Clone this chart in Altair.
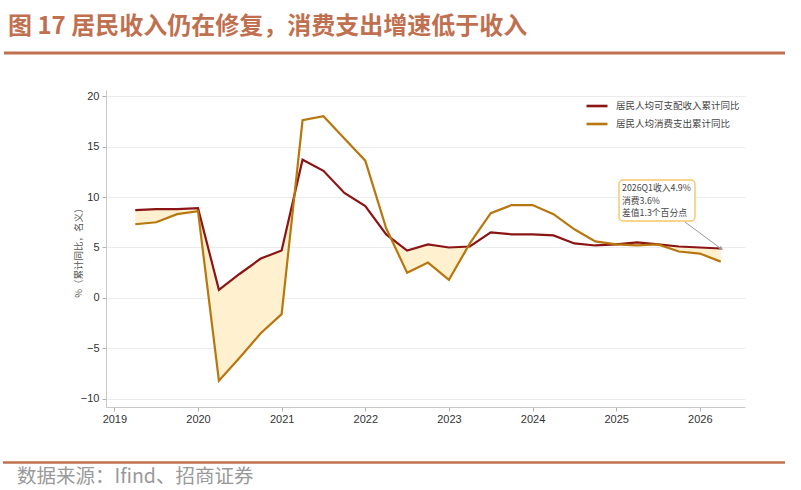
import altair as alt
import pandas as pd

# ---- data ----
quarters = ["2019Q1","2019Q2","2019Q3","2019Q4",
            "2020Q1","2020Q2","2020Q3","2020Q4",
            "2021Q1","2021Q2","2021Q3","2021Q4",
            "2022Q1","2022Q2","2022Q3","2022Q4",
            "2023Q1","2023Q2","2023Q3","2023Q4",
            "2024Q1","2024Q2","2024Q3","2024Q4",
            "2025Q1","2025Q2","2025Q3","2025Q4",
            "2026Q1"]
income = [8.7, 8.8, 8.8, 8.9,
          0.8, 2.4, 3.9, 4.7,
          13.7, 12.6, 10.4, 9.1,
          6.3, 4.7, 5.3, 5.0,
          5.1, 6.5, 6.3, 6.3,
          6.2, 5.4, 5.2, 5.3,
          5.5, 5.3, 5.1, 5.0,
          4.9]
consumption = [7.3, 7.5, 8.3, 8.6,
               -8.2, -5.9, -3.5, -1.6,
               17.6, 18.0, 15.8, 13.6,
               6.9, 2.5, 3.5, 1.8,
               5.4, 8.4, 9.2, 9.2,
               8.3, 6.8, 5.6, 5.3,
               5.2, 5.3, 4.6, 4.4,
               3.6]
series_names = ["居民人均可支配收入累计同比", "居民人均消费支出累计同比"]
colors = ["#8B1414", "#B8760F"]
year_ticks = [2019, 2020, 2021, 2022, 2023, 2024, 2025, 2026]
y_ticks = [-10, -5, 0, 5, 10, 15, 20]

# quarter-end position on a fractional-year axis
xpos = [int(q[:4]) + int(q[-1]) / 4 for q in quarters]

lines_df = pd.DataFrame(
    [{"x": x, "v": a, "s": series_names[0]} for x, a in zip(xpos, income)] +
    [{"x": x, "v": b, "s": series_names[1]} for x, b in zip(xpos, consumption)]
)

# fill region where income >= consumption (crossings derived for the polygon edge)
fill_rows = []
for i in range(len(xpos)):
    a, b = income[i], consumption[i]
    fill_rows.append({"x": xpos[i], "hi": a, "lo": min(a, b)})
    if i < len(xpos) - 1:
        d0 = income[i] - consumption[i]
        d1 = income[i + 1] - consumption[i + 1]
        if d0 * d1 < 0:
            t = d0 / (d0 - d1)
            xc = xpos[i] + t * (xpos[i + 1] - xpos[i])
            yc = income[i] + t * (income[i + 1] - income[i])
            fill_rows.append({"x": xc, "hi": yc, "lo": yc})
fill_df = pd.DataFrame(fill_rows)

last_df = pd.DataFrame({"x": [xpos[-1]], "v": [income[-1]]})
gap = round(income[-1] - consumption[-1], 1)
ann_lines = [f"{quarters[-1]}收入{income[-1]}%", f"消费{consumption[-1]}%", f"差值{gap}个百分点"]
dummy = pd.DataFrame({"a": [0]})

W, H = 639, 317
xscale = alt.Scale(domain=[2018.9, 2026.54], nice=False, zero=False)
yscale = alt.Scale(domain=[-10.8, 20.6], nice=False, zero=False)
FONT = "Liberation Sans"
CJK = "Noto Sans CJK SC"

x_axis = alt.Axis(values=year_ticks, format="d", grid=False, tickSize=4,
                  domainColor="#c8c8c8", tickColor="#b0b0b0", labelColor="#333333",
                  labelFont=FONT, labelFontSize=11, labelPadding=2, title=None)
y_axis = alt.Axis(values=y_ticks, grid=True, gridColor="#ececec", tickSize=4,
                  domainColor="#c8c8c8", tickColor="#b0b0b0", labelColor="#333333",
                  labelFont=FONT, labelFontSize=11, labelPadding=3,
                  title="%（累计同比，名义）", titleFont=CJK, titleFontSize=9.5,
                  titleFontWeight="normal", titleColor="#555555",
                  titleX=-28, titleY=160, titleAngle=270, titleAlign="center",
                  titleBaseline="middle")

fill = alt.Chart(fill_df).mark_area(color="#FFF1CF", opacity=1).encode(
    x=alt.X("x:Q", scale=xscale, axis=x_axis),
    y=alt.Y("hi:Q", scale=yscale, axis=y_axis),
    y2="lo:Q",
)

lines = alt.Chart(lines_df).mark_line(strokeWidth=2.2).encode(
    x=alt.X("x:Q", scale=xscale),
    y=alt.Y("v:Q", scale=yscale),
    color=alt.Color("s:N", scale=alt.Scale(domain=series_names, range=colors),
                    legend=alt.Legend(title=None, orient="none", legendX=479, legendY=4,
                                      symbolType="stroke", symbolSize=441,
                                      symbolStrokeWidth=2.6, labelFont=CJK,
                                      labelFontSize=9.5, labelColor="#444444",
                                      rowPadding=-4, padding=0, labelOffset=7)),
    detail="s:N",
)

box = alt.Chart(dummy).mark_rect(fill="white", stroke="#F6C667", strokeWidth=1.4,
                                 cornerRadius=4).encode(
    x=alt.value(513), x2=alt.value(589), y=alt.value(90), y2=alt.value(131))

ann_layers = [
    alt.Chart(dummy).mark_text(align="left", baseline="middle", font=CJK,
                               fontSize=8.8, color="#444444").encode(
        x=alt.value(516), y=alt.value(98 + 12.5 * k), text=alt.value(s))
    for k, s in enumerate(ann_lines)
]

arrow = alt.Chart(last_df).mark_rule(color="#999999", strokeWidth=1).encode(
    x=alt.X("x:Q", scale=xscale), y=alt.Y("v:Q", scale=yscale),
    x2=alt.value(579), y2=alt.value(132))
head = alt.Chart(last_df).mark_point(shape="triangle", filled=True, color="#999999",
                                     size=22, angle=126, opacity=1).encode(
    x=alt.X("x:Q", scale=xscale), y=alt.Y("v:Q", scale=yscale))

title = alt.Chart(dummy).mark_text(align="left", baseline="middle", font=CJK,
                                   fontSize=24, fontWeight="bold", color="#C0704F").encode(
    x=alt.value(-98), y=alt.value(-63), text=alt.value("图 17 居民收入仍在修复，消费支出增速低于收入"))
top_rule = alt.Chart(dummy).mark_rule(color="#C0704F", strokeWidth=3).encode(
    x=alt.value(-102), x2=alt.value(679), y=alt.value(-37))
bot_rule = alt.Chart(dummy).mark_rule(color="#C0704F", strokeWidth=2.5).encode(
    x=alt.value(-103), x2=alt.value(679), y=alt.value(372.5))
source = alt.Chart(dummy).mark_text(align="left", baseline="middle", font=CJK,
                                    fontSize=19.5, color="#999999").encode(
    x=alt.value(-89), y=alt.value(387), text=alt.value("数据来源：Ifind、招商证券"))

chart = alt.layer(fill, lines, box, *ann_layers, arrow, head, title, top_rule, bot_rule, source).properties(
    width=W, height=H,
    autosize=alt.AutoSizeParams(type="none"),
    padding={"left": 106, "top": 90, "right": 56, "bottom": 83},
    background="white",
).configure_view(stroke=None)

chart.save("out.html", embed_options={"renderer": "svg", "actions": False})
